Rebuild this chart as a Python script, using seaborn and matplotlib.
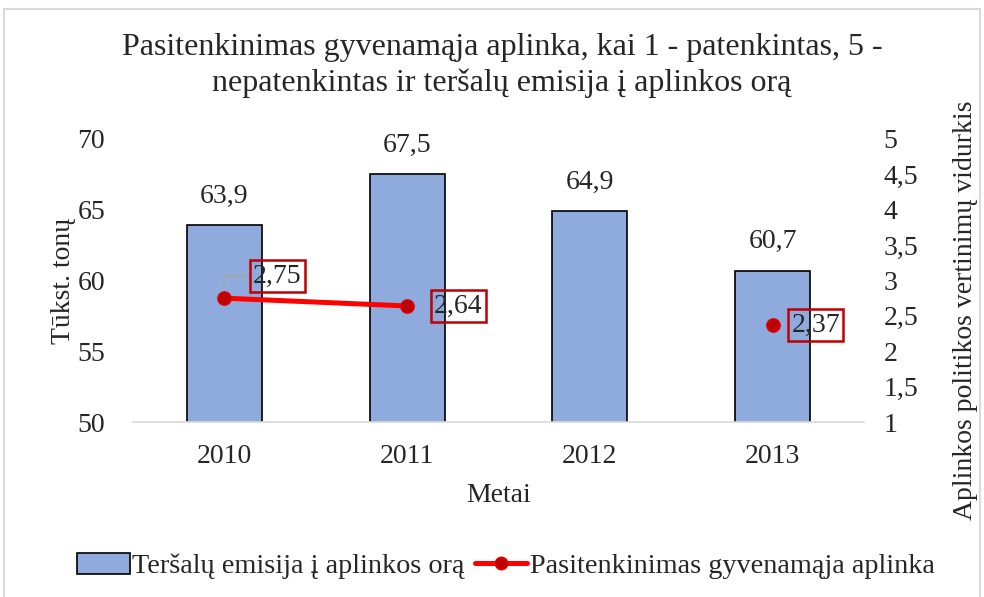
import matplotlib
matplotlib.use("Agg")
import matplotlib.pyplot as plt
import matplotlib.patches as mpatches
from matplotlib.lines import Line2D
import seaborn as sns
import pandas as pd
import numpy as np

# ---- data ----
years = ["2010", "2011", "2012", "2013"]
emission = [63.9, 67.5, 64.9, 60.7]
satisfaction = [2.75, 2.64, np.nan, 2.37]
segment = [0, 0, 1, 2]
left_ticks = [50, 55, 60, 65, 70]
right_ticks = [1, 1.5, 2, 2.5, 3, 3.5, 4, 4.5, 5]

title = "Pasitenkinimas gyvenamąja aplinka, kai 1 - patenkintas, 5 -\nnepatenkintas ir teršalų emisija į aplinkos orą"
bar_name = "Teršalų emisija į aplinkos orą"
line_name = "Pasitenkinimas gyvenamąja aplinka"

sns.set_style("white")
plt.rcParams["font.family"] = ["Liberation Serif", "DejaVu Serif"]

def comma(v):
    s = f"{v:g}"
    return s.replace(".", ",")

W, H = 984, 597
fig = plt.figure(figsize=(W / 100, H / 100), dpi=100)
L, R, T, B = 133, 864, 139, 422
ax = fig.add_axes([L / W, 1 - B / H, (R - L) / W, (B - T) / H])

df_bar = pd.DataFrame({"Metai": years, "val": emission})
sns.barplot(data=df_bar, x="Metai", y="val", ax=ax, color="#8FAADC",
            edgecolor="black", linewidth=1.2, width=0.41, saturation=1)
ax.set_ylim(50, 70)
ax.set_xlim(-0.5, len(years) - 0.5)
ax.set_yticks(left_ticks)
ax.set_yticklabels([comma(v) for v in left_ticks])
ax.tick_params(axis="y", length=0, pad=20, labelsize=20)
ax.tick_params(axis="x", which="major", length=0, pad=16, labelsize=20)
ax.set_xticks(np.arange(-0.5, len(years), 1.0), minor=True)
ax.tick_params(axis="x", which="minor", length=7, color="#D9D9D9", width=1.2)
for s in ["top", "left", "right"]:
    ax.spines[s].set_visible(False)
ax.spines["bottom"].set_color("#D9D9D9")
ax.spines["bottom"].set_linewidth(1.2)
ax.set_xlabel("Metai", fontsize=20, labelpad=10)
ax.set_ylabel("Tūkst. tonų", fontsize=20)
ax.yaxis.set_label_coords((63 - L) / (R - L), 0.5)
ax.yaxis.label.set_va("center")

ax.bar_label(ax.containers[0], labels=[comma(v) for v in emission],
             padding=12, fontsize=20)

# ---- right axis ----
ax2 = ax.twinx()
ax2.set_position(ax.get_position())
df_line = pd.DataFrame({"pos": np.arange(len(years)), "val": satisfaction, "seg": segment})
df_ok = df_line.dropna()
sns.lineplot(data=df_ok, x="pos", y="val", units="seg", estimator=None,
             ax=ax2, color="#FF0000", linewidth=3.6, legend=False)
sns.scatterplot(data=df_ok, x="pos", y="val", ax=ax2, color="#C00000",
                edgecolor="#E00000", linewidth=0.8, s=95, zorder=5, legend=False)
ax2.set_ylim(1, 5)
ax2.set_xlim(-0.5, len(years) - 0.5)
ax2.set_yticks(right_ticks)
ax2.set_yticklabels([comma(v) for v in right_ticks])
ax2.tick_params(axis="y", length=0, pad=14, labelsize=20)
for s in ["top", "left", "right", "bottom"]:
    ax2.spines[s].set_visible(False)
ax2.set_xlabel("")
ax2.set_ylabel("Aplinkos politikos vertinimų vidurkis", fontsize=20)
ax2.yaxis.set_label_coords((965 - L) / (R - L), (B - 310) / (B - T))
ax2.yaxis.label.set_va("center")

offsets = [(53, 22), (51, 0), None, (43, 0)]
for i, (v, off) in enumerate(zip(satisfaction, offsets)):
    if np.isnan(v):
        continue
    kw = {}
    if i == 0:
        kw["arrowprops"] = dict(arrowstyle="-", color="#A6A6A6", lw=1.2,
                                connectionstyle="angle,angleA=180,angleB=90,rad=0",
                                shrinkA=0, shrinkB=8)
    ax2.annotate(comma(v), xy=(i, v), xytext=off, textcoords="offset pixels",
                 ha="center", va="center", fontsize=20, zorder=6,
                 bbox=dict(boxstyle="square,pad=0.12", fc="none", ec="#C00000", lw=1.8),
                 **kw)

# ---- title ----
fig.text(502 / W, 1 - 33 / H, title, ha="center", va="top", fontsize=23,
         linespacing=1.28)

# ---- legend ----
h_bar = mpatches.Patch(facecolor="#8FAADC", edgecolor="black", linewidth=1.2, label=bar_name)
h_line = Line2D([], [], color="#FF0000", lw=3.6, marker="o", markersize=9,
                markerfacecolor="#C00000", markeredgecolor="#E00000", label=line_name)
fig.legend(handles=[h_bar, h_line], loc="center", bbox_to_anchor=(506 / W, 1 - 566 / H),
           ncol=2, frameon=False, fontsize=20.3, handlelength=1.85, handletextpad=0.1,
           columnspacing=0.35, handleheight=0.75)

# ---- figure border ----
fig.patches.append(mpatches.Rectangle((4 / W, -0.01), 1 - 8 / W, 1 - 9 / H + 0.01,
                                      transform=fig.transFigure, fill=False,
                                      edgecolor="#D9D9D9", linewidth=1.5))

fig.savefig("out.png", dpi=100)
